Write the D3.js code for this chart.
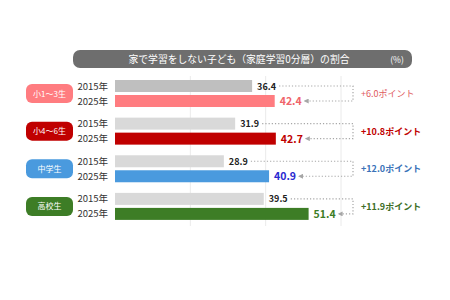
<!DOCTYPE html>
<html>
<head>
<meta charset="utf-8">
<script src="https://cdn.jsdelivr.net/npm/d3@7"></script>
<style>
  body { margin: 0; background: #fff; }
  svg { display: block; font-family: "Noto Sans CJK JP", "Noto Sans", sans-serif; }
</style>
</head>
<body>
<svg id="chart" width="450" height="300"></svg>
<script>
// data
var groups = ["小1～3生", "小4～6生", "中学生", "高校生"];
var years = ["2015年", "2025年"];
var v2015 = [36.4, 31.9, 28.9, 39.5];
var v2025 = [42.4, 42.7, 40.9, 51.4];
var diffLabels = ["+6.0ポイント", "+10.8ポイント", "+12.0ポイント", "+11.9ポイント"];
var gridTicks = [20, 40, 60];
var title = "家で学習をしない子ども（家庭学習0分層）の割合";

var groupColors = ["#ff7c80", "#c00000", "#4a9ade", "#3d7d26"];
var oldColors = ["#bfbfbf", "#d9d9d9", "#d9d9d9", "#d9d9d9"];
var valueColors = ["#f0646a", "#c00000", "#2a2ad0", "#3d7d26"];
var diffColors = ["#e05a60", "#c00000", "#3a72b8", "#3d6e26"];

var svg = d3.select("#chart");

var x = d3.scaleLinear().domain([0, 60]).range([115, 341]);
var y = d3.scaleBand().domain(groups).range([78, 221]).paddingInner(0.2).paddingOuter(0);
var barH = 12, gap = 3;

// title bar
svg.append("rect")
    .attr("x", 73).attr("y", 50)
    .attr("width", 339).attr("height", 18)
    .attr("rx", 7)
    .attr("fill", "#6e6e6e");
svg.append("text")
    .attr("x", 239).attr("y", 63.2)
    .attr("text-anchor", "middle")
    .attr("fill", "#fff")
    .attr("font-size", 9.8)
    .text(title);
svg.append("text")
    .attr("x", 397).attr("y", 62.8)
    .attr("text-anchor", "middle")
    .attr("fill", "#fff")
    .attr("font-size", 8.5)
    .text("(%)");

// gridlines
svg.append("g").selectAll("line")
    .data(gridTicks)
    .enter()
    .append("line")
    .attr("x1", function (d) { return x(d); })
    .attr("x2", function (d) { return x(d); })
    .attr("y1", 76).attr("y2", 226)
    .attr("stroke", "#e4e4e4")
    .attr("stroke-width", 0.8);

var defs = svg.append("defs");
defs.append("marker")
    .attr("id", "arr")
    .attr("viewBox", "0 0 10 10")
    .attr("refX", 8).attr("refY", 5)
    .attr("markerWidth", 5).attr("markerHeight", 5)
    .attr("markerUnits", "userSpaceOnUse")
    .attr("orient", "auto")
    .append("path")
    .attr("d", "M0,0 L10,5 L0,10 z")
    .attr("fill", "#a6a6a6");

var g = svg.selectAll(".grp")
    .data(groups)
    .enter()
    .append("g")
    .attr("class", "grp");

g.each(function (name, i) {
    var sel = d3.select(this);
    var top = y(name) + 2;
    var y1 = top, y2 = top + barH + gap;
    var mid = top + barH + gap / 2;

    // category pill
    sel.append("rect")
        .attr("x", 26).attr("y", mid - 9.5)
        .attr("width", 47).attr("height", 19)
        .attr("rx", 6)
        .attr("fill", groupColors[i]);
    sel.append("text")
        .attr("x", 49.5).attr("y", mid + 3)
        .attr("text-anchor", "middle")
        .attr("fill", "#fff")
        .attr("font-size", 8)
        .text(name);

    // year labels
    sel.selectAll(".yr")
        .data(years)
        .enter()
        .append("text")
        .attr("x", 108)
        .attr("y", function (d, j) { return (j ? y2 : y1) + barH / 2 + 3.5; })
        .attr("text-anchor", "end")
        .attr("fill", "#333")
        .attr("font-size", 9.5)
        .text(function (d) { return d; });

    // bars
    sel.append("rect")
        .attr("x", x(0)).attr("y", y1)
        .attr("width", x(v2015[i]) - x(0)).attr("height", barH)
        .attr("fill", oldColors[i]);
    sel.append("rect")
        .attr("x", x(0)).attr("y", y2)
        .attr("width", x(v2025[i]) - x(0)).attr("height", barH)
        .attr("fill", groupColors[i]);

    // values
    sel.append("text")
        .attr("x", x(v2015[i]) + 5).attr("y", y1 + barH / 2 + 3.5)
        .attr("fill", "#222")
        .attr("font-size", 9)
        .attr("font-weight", 600)
        .text(v2015[i].toFixed(1));
    sel.append("text")
        .attr("x", x(v2025[i]) + 5).attr("y", y2 + barH / 2 + 4)
        .attr("fill", valueColors[i])
        .attr("font-size", 10.5)
        .attr("font-weight", 600)
        .text(v2025[i].toFixed(1));

    // dotted connector
    var xr = 353;
    var cy1 = y1 + barH / 2, cy2 = y2 + barH / 2;
    sel.append("path")
        .attr("d", "M" + (x(v2015[i]) + 27) + "," + cy1 + " H" + xr + " V" + cy2 + " H" + (x(v2025[i]) + 30))
        .attr("fill", "none")
        .attr("stroke", "#a6a6a6")
        .attr("stroke-width", 1.2)
        .attr("stroke-dasharray", "1.2,2")
        .attr("marker-end", "url(#arr)");

    // difference label
    sel.append("text")
        .attr("x", 361).attr("y", mid + 3.5)
        .attr("fill", diffColors[i])
        .attr("font-size", 9)
        .attr("font-weight", i === 0 ? "normal" : "bold")
        .text(diffLabels[i]);
});
</script>
</body>
</html>
